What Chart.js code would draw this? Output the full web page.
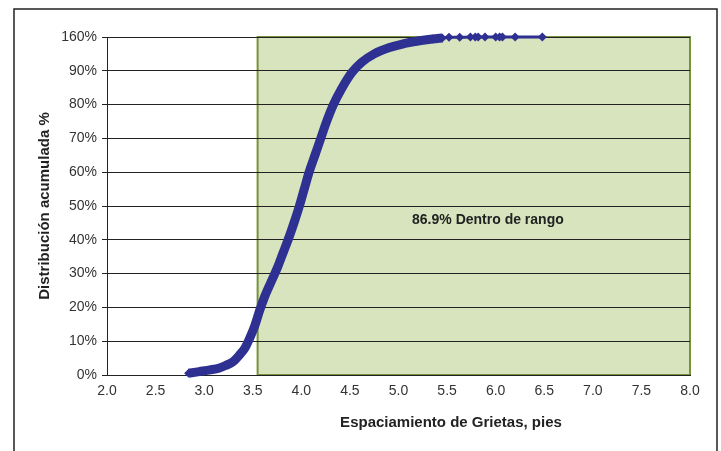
<!DOCTYPE html>
<html>
<head>
<meta charset="utf-8">
<script src="https://cdn.jsdelivr.net/npm/chart.js@4/dist/chart.umd.min.js"></script>
<style>
  html, body { margin: 0; padding: 0; background: #fff; }
  #wrap { position: relative; width: 721px; height: 451px; }
</style>
</head>
<body>
<div id="wrap"><canvas id="myChart"></canvas></div>
<script>
// espaciamiento (pies) y distribucion acumulada (%)
var spacing = [2.84, 2.95, 3.06, 3.15, 3.22, 3.30, 3.36, 3.42, 3.47, 3.52, 3.57, 3.62, 3.68, 3.75, 3.81,
               3.87, 3.93, 3.98, 4.03, 4.08, 4.14, 4.20, 4.26, 4.33, 4.42, 4.52, 4.62, 4.75, 4.90, 5.05,
               5.20, 5.35, 5.45,
               5.52, 5.63, 5.74, 5.79, 5.82, 5.89, 6.00, 6.04, 6.07, 6.20, 6.48];
var cumulative = [0.5, 1.0, 1.5, 2.0, 2.8, 4.0, 5.8, 8.0, 11.0, 14.5, 19.0, 23.0, 27.0, 31.5, 36.0,
                  40.5, 45.5, 50.0, 55.0, 60.0, 65.0, 70.0, 75.0, 80.0, 85.0, 89.5, 92.5, 95.0, 96.8, 98.0,
                  98.8, 99.4, 99.7,
                  99.9, 99.9, 100, 100, 100, 100, 100, 100, 100, 100, 100];
var yTickLabels = ['0%', '10%', '20%', '30%', '40%', '50%', '60%', '70%', '80%', '90%', '160%'];
var xTickLabels = ['2.0', '2.5', '3.0', '3.5', '4.0', '4.5', '5.0', '5.5', '6.0', '6.5', '7.0', '7.5', '8.0'];
var rangeStart = 3.55;
var rangeEnd = 8.0;
var rangeLabel = '86.9% Dentro de rango';
var rangeLabelPos = [5.92, 45.8];

var points = spacing.map(function (x, i) { return {x: x, y: cumulative[i]}; });

// caja verde + marco + textos
var decor = {
  id: 'decor',
  beforeDraw: function (chart) {
    var c = chart.ctx, xs = chart.scales.x, ys = chart.scales.y;
    var l = xs.getPixelForValue(rangeStart), r = xs.getPixelForValue(rangeEnd);
    var t = ys.getPixelForValue(100), b = ys.getPixelForValue(0);
    c.save();
    c.fillStyle = '#d7e4bd';
    c.fillRect(l, t, r - l, b - t);
    c.strokeStyle = '#76923c';
    c.lineWidth = 2;
    c.strokeRect(l, t, r - l, b - t);
    c.restore();
  },
  beforeDatasetsDraw: function (chart) {
    var c = chart.ctx, xs = chart.scales.x, ys = chart.scales.y;
    c.save();
    c.font = 'bold 14px "Liberation Sans", Arial, sans-serif';
    c.fillStyle = '#222';
    c.textAlign = 'center';
    c.textBaseline = 'middle';
    c.fillText(rangeLabel, xs.getPixelForValue(rangeLabelPos[0]), ys.getPixelForValue(rangeLabelPos[1]));
    c.restore();
  },
  afterDraw: function (chart) {
    var c = chart.ctx;
    c.save();
    c.font = 'bold 15px "Liberation Sans", Arial, sans-serif';
    c.fillStyle = '#222';
    c.textAlign = 'center';
    c.textBaseline = 'middle';
    c.fillText('Espaciamiento de Grietas, pies', 451, 423);
    c.strokeStyle = '#222';
    c.lineWidth = 1.5;
    c.beginPath();
    c.moveTo(14, 451);
    c.lineTo(14, 9);
    c.lineTo(717, 9);
    c.lineTo(717, 451);
    c.stroke();
    c.restore();
  }
};

var ctx = document.getElementById('myChart').getContext('2d');
var chart = new Chart(ctx, {
  type: 'scatter',
  data: {
    datasets: [{
      label: 'Distribución acumulada',
      data: points,
      showLine: true,
      clip: false,
      cubicInterpolationMode: 'monotone',
      borderColor: '#2e3192',
      backgroundColor: '#2e3192',
      borderWidth: 9,
      segment: {
        borderWidth: function (s) { return s.p0.parsed.x >= 5.4 ? 3 : 9; }
      },
      pointStyle: 'rectRot',
      pointRadius: 4.5,
      pointBorderWidth: 0,
      pointHoverRadius: 4.5
    }]
  },
  options: {
    responsive: true,
    maintainAspectRatio: false,
    animation: false,
    layout: {padding: {left: 0, top: 37, right: 31, bottom: 0}},
    plugins: {legend: {display: false}, tooltip: {enabled: false}},
    scales: {
      x: {
        type: 'linear',
        min: 2, max: 8,
        afterFit: function (s) { s.height = 76; },
        grid: {display: false, drawTicks: false},
        border: {display: true, color: '#222', width: 1},
        ticks: {
          stepSize: 0.5,
          padding: 8,
          color: '#333',
          font: {family: '"Liberation Sans", Arial, sans-serif', size: 14},
          callback: function (v, i) { return xTickLabels[i]; }
        }
      },
      y: {
        min: 0, max: 100,
        afterFit: function (s) { s.width = 107; },
        grid: {color: '#222', lineWidth: 1, tickLength: 5},
        border: {display: true, color: '#222', width: 1},
        ticks: {
          stepSize: 10,
          padding: 5,
          color: '#333',
          font: {family: '"Liberation Sans", Arial, sans-serif', size: 14},
          callback: function (v, i) { return yTickLabels[i]; }
        },
        title: {
          display: true,
          text: 'Distribución acumulada %',
          color: '#222',
          font: {family: '"Liberation Sans", Arial, sans-serif', size: 15, weight: 'bold'},
          padding: {top: 36}
        }
      }
    }
  },
  plugins: [decor]
});
</script>
</body>
</html>
